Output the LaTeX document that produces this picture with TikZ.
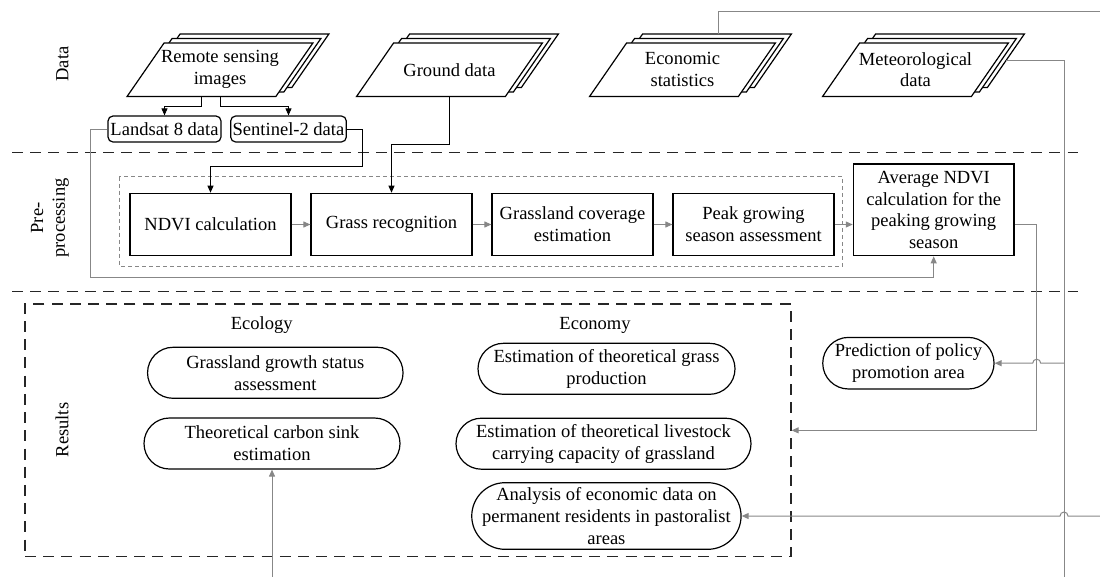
\documentclass[tikz,border=0pt]{standalone}
\usepackage{fontspec}
\setmainfont{Liberation Serif}
\usetikzlibrary{arrows.meta,backgrounds}
\definecolor{linegray}{RGB}{135,135,135}

\begin{document}
\begin{tikzpicture}[
  font=\fontsize{9.3}{10.9}\selectfont,
  datadoc/.style={minimum width=74bp,minimum height=26.35bp,inner sep=1pt,align=center},
  docframe/.style={draw,fill=white,line width=0.6pt},
  srcbox/.style={draw,rounded corners=2.5bp,line width=0.6pt,minimum height=13bp,inner sep=1pt},
  stepbox/.style={draw,line width=0.6pt,minimum width=80.5bp,minimum height=31.2bp,align=center,inner sep=1pt},
  ovalres/.style={draw,line width=0.6pt,rounded corners=#1,minimum height=2*#1,align=center,inner sep=1pt},
  ovalres/.default=12.75bp,
  sect/.style={draw=black!85,line width=0.6pt,dash pattern=on 5.5bp off 3.6bp},
  bline/.style={line width=0.45pt,-{Triangle[length=3.5bp,width=3bp]}},
  gline/.style={linegray,line width=0.5pt,-{Triangle[length=3.5bp,width=3bp]}},
]
\useasboundingbox (0bp,0bp) rectangle (550bp,-288.5bp);

% rows
\node (datalbl) at (31.25bp,-32bp) [rotate=90] {Data};
\node (prelbl) at (25bp,-109bp) [rotate=90,align=center] {Pre-\\processing};
\node (reslbl) at (31bp,-215bp) [rotate=90] {Results};
\draw [sect] (6bp,-76.35bp) -- (539bp,-76.35bp);
\draw [sect] (6bp,-145.85bp) -- (539bp,-145.85bp);

% data (stacked sheets, frames drawn behind)
\node (rs3) at (118bp,-30.35bp) [datadoc] {};
\node (rs2) at (114bp,-32.6bp) [datadoc] {};
\node (rs) at (110bp,-34.85bp) [datadoc] {Remote sensing\\images};
\node (gd3) at (232.75bp,-30.35bp) [datadoc] {};
\node (gd2) at (228.75bp,-32.6bp) [datadoc] {};
\node (gd) at (224.75bp,-34.85bp) [datadoc] {Ground data};
\node (eco3) at (349.25bp,-30.35bp) [datadoc] {};
\node (eco2) at (345.25bp,-32.6bp) [datadoc] {};
\node (eco) at (341.25bp,-34.85bp) [datadoc] {Economic\\statistics};
\node (met3) at (465.75bp,-30.35bp) [datadoc] {};
\node (met2) at (461.75bp,-32.6bp) [datadoc] {};
\node (met) at (457.75bp,-34.85bp) [datadoc] {Meteorological\\data};
\begin{pgfonlayer}{background}
\foreach \d in {rs3,rs2,rs,gd3,gd2,gd,eco3,eco2,eco,met3,met2,met}
  \draw [docframe] ([xshift=-9.25bp]\d.south west) -- ([xshift=-9.25bp]\d.south east)
    -- ([xshift=9.25bp]\d.north east) -- ([xshift=9.25bp]\d.north west) -- cycle;
\end{pgfonlayer}

\node (ls) at (82.25bp,-64.5bp) [srcbox,minimum width=56.5bp] {Landsat 8 data};
\node (sn) at (144.25bp,-64.5bp) [srcbox,minimum width=57.5bp] {Sentinel-2 data};

% pre-processing
\draw [linegray,line width=0.5pt,dash pattern=on 2bp off 1.5bp] (59.65bp,-88.35bp) rectangle (421.35bp,-133bp);
\node (ndvi) at (105.25bp,-112.25bp) [stepbox] {NDVI calculation};
\node (grass) at (195.75bp,-112.25bp) [stepbox] {Grass recognition};
\node (cover) at (286.25bp,-112.25bp) [stepbox] {Grassland coverage\\estimation};
\node (peak) at (376.75bp,-112.25bp) [stepbox] {Peak growing\\season assessment};
\node (avg) at (466.85bp,-104.95bp) [stepbox,minimum width=80.35bp,minimum height=45.85bp] {Average NDVI\\calculation for the\\peaking growing\\season};

% results
\node (resbox) at (204bp,-215.175bp) [sect,minimum width=383bp,minimum height=126.35bp] {};
\node (ecolbl) at (130.85bp,-162.5bp) {Ecology};
\node (econlbl) at (297.5bp,-162.5bp) {Economy};
\node (growth) at (137.65bp,-186.4bp) [ovalres,minimum width=127.75bp] {Grassland growth status\\assessment};
\node (carbon) at (136bp,-221.75bp) [ovalres,minimum width=128bp] {Theoretical carbon sink\\estimation};
\node (prod) at (303.25bp,-184.4bp) [ovalres,minimum width=128.5bp] {Estimation of theoretical grass\\production};
\node (stock) at (301.75bp,-221.85bp) [ovalres,minimum width=147.5bp] {Estimation of theoretical livestock\\carrying capacity of grassland};
\node (ana) at (303.2bp,-258bp) [ovalres=16.65bp,minimum width=134.65bp] {Analysis of economic data on\\permanent residents in pastoralist\\areas};
\node (pred) at (454.2bp,-181.6bp) [ovalres=12.9bp,minimum width=85.65bp] {Prediction of policy\\promotion area};

% turning points and open ends
\coordinate (lsturn) at (45.35bp,-138.85bp);
\coordinate (snturn) at (181bp,-83.35bp);
\coordinate (gdturn) at (195.75bp,-72.15bp);
\coordinate (avgturn) at (518.35bp,-215.175bp);
\coordinate (metend) at (532bp,-288.5bp);
\coordinate (ecoend) at (550bp,-5.85bp);
\coordinate (anaend) at (550bp,-258bp);
\coordinate (carbonin) at (136bp,-288.5bp);

% connectors
\draw [bline] ([xshift=-9.25bp]rs.south) -- ++(0,-5bp) -| (ls.north);
\draw [bline] (rs.south) -- ++(0,-5bp) -| (sn.north);
\draw [bline] (sn.east) -| (snturn) -| (ndvi.north);
\draw [bline] (gd.south) |- (gdturn) -- (grass.north);
\draw [gline] (ls.west) -| (lsturn) -| (avg.south);
\draw [gline] (ndvi) -- (grass);
\draw [gline] (grass) -- (cover);
\draw [gline] (cover) -- (peak);
\draw [gline] (peak.east) -- (peak.east -| avg.west);
\draw [gline] (avg.east |- peak.east) -| (avgturn) -- (resbox.east);
\draw [gline,-] ([xshift=9.75bp]eco3.north) |- (ecoend);
\draw [gline,-] (met3.east) -| (metend);
\draw [gline] (metend |- pred.east) -- ([xshift=2bp]avgturn |- pred.east) arc[start angle=0,end angle=180,radius=2bp] -- (pred.east);
\draw [gline] (anaend) -- ([xshift=2bp]metend |- ana.east) arc[start angle=0,end angle=180,radius=2bp] -- (ana.east);
\draw [gline] (carbonin) -- (carbon.south);
\end{tikzpicture}
\end{document}
